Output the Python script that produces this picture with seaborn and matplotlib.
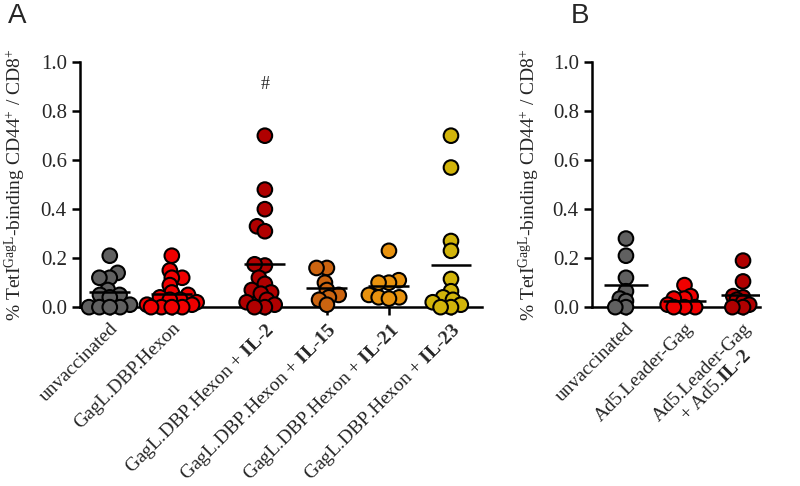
import matplotlib
matplotlib.use("Agg")
import matplotlib.pyplot as plt
import numpy as np
import pandas as pd
import seaborn as sns


# Panel A: GagL.DBP.Hexon vaccination with cytokine adjuvants
GRUPPER_A = ["unvaccinated", "Hexon", "IL-2", "IL-15", "IL-21", "IL-23"]
UNVACC_A = [0.21, 0.14, 0.12, 0.12, 0.07, 0.05, 0.05, 0.04, 0.01, 0.0, 0.0, 0.0, 0.0]
HEXON = [0.21, 0.15, 0.12, 0.12, 0.09, 0.06, 0.05, 0.04, 0.03, 0.03, 0.02, 0.01, 0.01, 0.0, 0.0, 0.0, 0.0]
HEXON_IL2 = [0.70, 0.48, 0.40, 0.33, 0.31, 0.17, 0.175, 0.12, 0.095, 0.07, 0.06, 0.055, 0.03, 0.02, 0.01, 0.0, 0.0]
HEXON_IL15 = [0.16, 0.16, 0.10, 0.07, 0.05, 0.04, 0.03, 0.01]
HEXON_IL21 = [0.23, 0.11, 0.10, 0.10, 0.05, 0.04, 0.04, 0.035]
HEXON_IL23 = [0.70, 0.57, 0.27, 0.23, 0.115, 0.065, 0.04, 0.03, 0.02, 0.01, 0.0, 0.0]
ETIKETTER_A = [
    "unvaccinated",
    "GagL.DBP.Hexon",
    r"GagL.DBP.Hexon + $\mathbf{IL}$-$\mathbf{2}$",
    r"GagL.DBP.Hexon + $\mathbf{IL}$-$\mathbf{15}$",
    r"GagL.DBP.Hexon + $\mathbf{IL}$-$\mathbf{21}$",
    r"GagL.DBP.Hexon + $\mathbf{IL}$-$\mathbf{23}$",
]

# Panel B: Ad5 vectors
GRUPPER_B = ["unvaccinated", "Leader-Gag", "Leader-Gag + IL-2"]
UNVACC_B = [0.28, 0.21, 0.12, 0.065, 0.035, 0.025, 0.0, 0.0]
LEADER_GAG = [0.09, 0.045, 0.035, 0.035, 0.01, 0.0, 0.0, 0.0]
LEADER_GAG_IL2 = [0.19, 0.105, 0.045, 0.04, 0.03, 0.02, 0.01, 0.0, 0.0]
ETIKETTER_B = [
    "unvaccinated",
    "Ad5.Leader-Gag",
    "Ad5.Leader-Gag\n+ Ad5.$\\mathbf{IL}$-$\\mathbf{2}$",
]

Y_TICKS = [0.0, 0.2, 0.4, 0.6, 0.8, 1.0]
Y_LABEL = r"% TetI$^{\mathrm{GagL}}$-binding CD44$^{+}$ / CD8$^{+}$"

FARGER_A = ["#606060", "#F00000", "#B00000", "#CC6410", "#E8920E", "#D2B40A"]
FARGER_B = ["#606060", "#F00000", "#B00000"]
POSISJON_A = [0, 1, 2.5, 3.5, 4.5, 5.5]


def lag_long(grupper, verdier, posisjoner=None):
    rader = []
    for i, (gruppe, vals) in enumerate(zip(grupper, verdier)):
        for v in vals:
            rad = {"gruppe": gruppe, "verdi": v}
            if posisjoner is not None:
                rad["pos"] = posisjoner[i]
            rader.append(rad)
    return pd.DataFrame(rader)


def stil_akse(ax):
    sns.despine(ax=ax)
    for side in ["left", "bottom"]:
        ax.spines[side].set_linewidth(1.8)
        ax.spines[side].set_color("black")
    ax.set_ylim(0, 1.0)
    ax.set_yticks(Y_TICKS)
    ax.set_yticklabels([f"{t:.1f}" for t in Y_TICKS])
    ax.tick_params(axis="y", labelsize=15, width=1.8, length=6, color="black")
    ax.tick_params(axis="x", labelsize=14, width=1.8, length=6, color="black", pad=3)
    ax.set_ylabel(Y_LABEL, fontsize=14)
    ax.set_xlabel("")


def main():
    sns.set_theme(style="ticks")
    plt.rcParams["font.family"] = ["Liberation Serif", "DejaVu Serif"]
    plt.rcParams["mathtext.fontset"] = "custom"
    plt.rcParams["mathtext.rm"] = "Liberation Serif"
    plt.rcParams["mathtext.it"] = "Liberation Serif:italic"
    plt.rcParams["mathtext.bf"] = "Liberation Serif:bold"

    fig = plt.figure(figsize=(8, 4.86), dpi=100)
    ax_a = fig.add_axes([0.1, 0.368, 0.5025, 0.504])
    ax_b = fig.add_axes([0.74, 0.368, 0.21, 0.504])

    verdier_a = [UNVACC_A, HEXON, HEXON_IL2, HEXON_IL15, HEXON_IL21, HEXON_IL23]
    df_a = lag_long(GRUPPER_A, verdier_a, POSISJON_A)
    sns.swarmplot(data=df_a, x="pos", y="verdi", hue="gruppe", hue_order=GRUPPER_A,
                  palette=FARGER_A, native_scale=True, size=5.5, linewidth=1.5,
                  edgecolor="black", legend=False, warn_thresh=1, clip_on=False,
                  zorder=3, ax=ax_a)

    verdier_b = [UNVACC_B, LEADER_GAG, LEADER_GAG_IL2]
    df_b = lag_long(GRUPPER_B, verdier_b)
    sns.swarmplot(data=df_b, x="gruppe", y="verdi", hue="gruppe", order=GRUPPER_B,
                  palette=FARGER_B, size=5.5, linewidth=1.5, edgecolor="black",
                  legend=False, warn_thresh=1, clip_on=False, zorder=3, ax=ax_b)

    # swarm layout with smaller markers, then draw them larger so they overlap
    fig.canvas.draw()
    for ax in (ax_a, ax_b):
        for c in ax.collections:
            if "draw" in c.__dict__:
                del c.draw
            c.set_sizes([10.5 ** 2] * len(c.get_offsets()))

    for pos, vals in zip(POSISJON_A, verdier_a):
        ax_a.hlines(np.mean(vals), pos - 0.33, pos + 0.33, color="black", lw=1.8, zorder=4)
    for pos, vals in enumerate(verdier_b):
        ax_b.hlines(np.mean(vals), pos - 0.37, pos + 0.37, color="black", lw=1.8, zorder=4)

    stil_akse(ax_a)
    ax_a.set_xlim(-0.48, 6.0)
    ax_a.set_xticks(POSISJON_A)
    ax_a.set_xticklabels(ETIKETTER_A, rotation=45, ha="right", rotation_mode="anchor")
    ax_a.yaxis.set_label_coords(-0.13, 0.5)
    ax_a.text(POSISJON_A[2], 0.91, "#", ha="center", va="center", fontsize=13)

    stil_akse(ax_b)
    ax_b.set_xlim(-0.58, 2.29)
    ax_b.set_xticks(range(len(GRUPPER_B)))
    ax_b.set_xticklabels(ETIKETTER_B, rotation=45, ha="right", rotation_mode="anchor",
                         multialignment="center")
    ax_b.yaxis.set_label_coords(-0.30, 0.5)

    fig.text(0.022, 0.967, "A", fontsize=20, family="Liberation Sans", ha="center", va="center")
    fig.text(0.725, 0.967, "B", fontsize=20, family="Liberation Sans", ha="center", va="center")

    fig.savefig("out.png", dpi=100)
    plt.close(fig)


if __name__ == "__main__":
    main()
